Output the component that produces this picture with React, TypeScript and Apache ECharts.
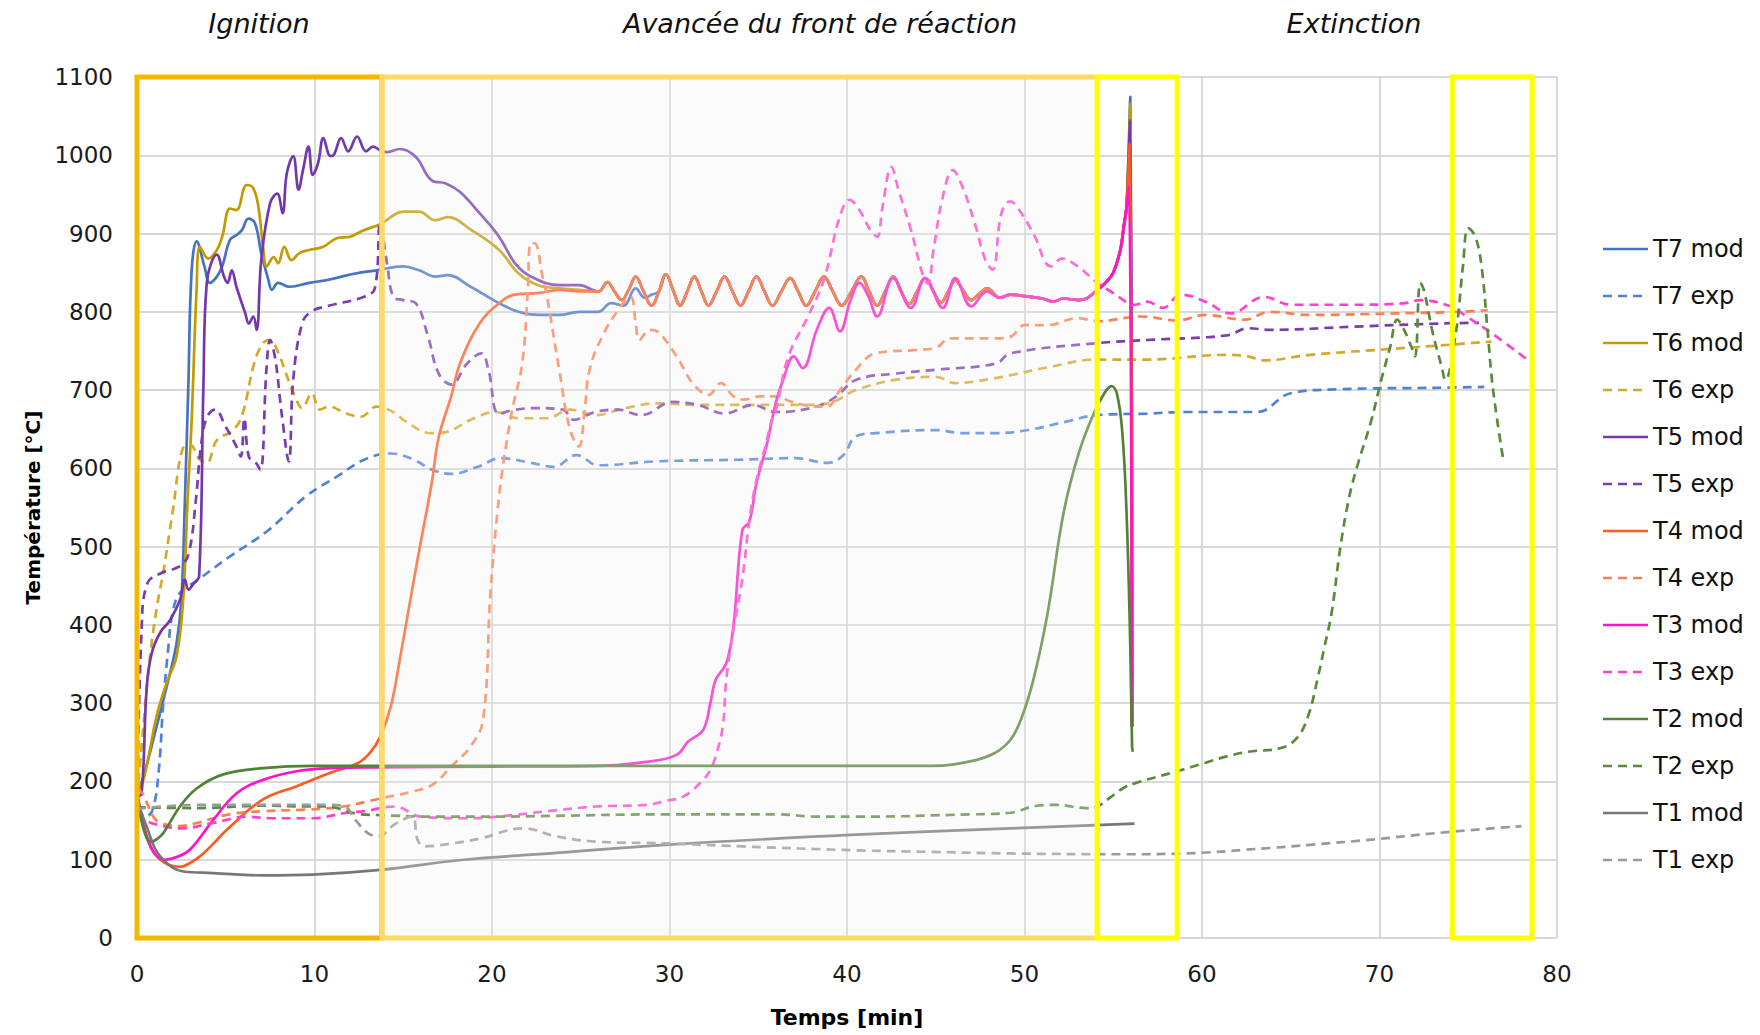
import React, { useEffect, useRef } from "react";
import * as echarts from "echarts";

const FONT = "'DejaVu Sans', 'Liberation Sans', sans-serif";

// ---------- axes ----------
const X_MIN = 0;
const X_MAX = 80;
const X_STEP = 10;
const Y_MIN = 0;
const Y_MAX = 1100;
const Y_STEP = 100;

// ---------- zones (minutes) ----------
const ignitionZone = [0, 13.8];
const frontZone = [13.8, 54.1];
const extinctionZones = [
  [54.1, 58.6],
  [74.1, 78.6],
];
const sectionTitles = ["Ignition", "Avancée du front de réaction", "Extinction"];

// ---------- data: [time (min), temperature (°C)] ----------
// oscillating reaction-front plateau shared by the model curves T7..T4 (and T3 at the end)
const frontWave = [
  [26.0, 826], [26.5, 838], [26.9, 826], [27.3, 815], [27.7, 828], [28.1, 845], [28.5, 828],
  [29.0, 808], [29.4, 826], [29.8, 848], [30.2, 828], [30.6, 808], [31.0, 826], [31.4, 845],
  [31.8, 826], [32.2, 808], [32.65, 826], [33.1, 845], [33.55, 826], [34.0, 808], [34.45, 826],
  [34.9, 845], [35.35, 826], [35.8, 808], [36.3, 826], [36.8, 843], [37.25, 826], [37.7, 808],
  [38.2, 826], [38.7, 845], [39.2, 826], [39.7, 808], [40.25, 826], [40.8, 845], [41.25, 826],
  [41.7, 808], [42.15, 826], [42.6, 845], [43.05, 826], [43.5, 810], [43.95, 826], [44.4, 843],
  [44.85, 827], [45.3, 812], [45.7, 826], [46.1, 840], [46.55, 827], [47.0, 815], [47.45, 823],
  [47.9, 830], [48.6, 818], [49.2, 822], [50.0, 820], [51.0, 817], [51.6, 813], [52.2, 817],
  [53.0, 815], [53.5, 817], [54.1, 828], [54.6, 838], [55.0, 850], [55.4, 879], [55.6, 910],
  [55.75, 934],
];

const T7modStart = [
  [0, 185], [0.36, 206], [1.1, 270], [1.67, 321], [2.23, 377], [2.5, 432], [2.7, 560], [2.89, 704],
  [3.08, 853], [3.36, 890], [3.8, 858], [4.1, 837], [4.5, 845], [4.8, 858], [5.24, 892], [5.6, 898],
  [5.9, 904], [6.28, 919], [6.65, 913], [7.0, 875], [7.4, 841], [7.6, 828], [7.95, 837], [8.6, 832],
  [9.7, 837], [10.8, 841], [12.3, 849], [13.5, 853], [15.0, 858], [15.9, 853], [16.8, 845],
  [17.5, 847], [18.8, 832], [20.4, 811], [21.5, 800], [22.6, 796], [23.8, 796], [24.9, 800],
  [26.0, 800], [26.7, 811], [27.4, 808], [28.1, 830], [28.6, 818], [29.0, 822],
];
const T7modEnd = [[55.96, 1075], [56.06, 270]];

const T6modStart = [
  [0, 190], [0.36, 202], [1.1, 283], [1.67, 326], [2.23, 360], [2.6, 432], [2.85, 560], [3.08, 662],
  [3.36, 830], [3.55, 883], [4.02, 868], [4.5, 879], [4.8, 896], [5.24, 932], [5.6, 930], [6.18, 962],
  [6.55, 958], [6.84, 934], [7.1, 883], [7.31, 858], [7.7, 870], [7.95, 862], [8.3, 883], [8.7, 866],
  [9.15, 875], [9.7, 879], [10.5, 883], [11.25, 894], [12.0, 896], [12.75, 904], [13.7, 912],
  [15.04, 928], [15.9, 928], [16.8, 917], [17.5, 921], [18.8, 905], [20.4, 879], [21.5, 849],
  [22.6, 834], [23.8, 830], [24.9, 828],
];
const T6modEnd = [[55.96, 1066], [56.06, 270]];

const T5modStart = [
  [0, 180], [0.26, 185], [0.55, 321], [0.83, 364], [1.3, 390], [1.86, 406], [2.42, 432], [2.7, 458],
  [2.9, 445], [3.2, 453], [3.5, 462], [3.74, 704], [3.93, 837], [4.5, 873], [4.9, 845], [5.1, 837],
  [5.34, 853], [5.6, 832], [6.1, 798], [6.3, 785], [6.55, 794], [6.74, 777], [7.0, 866], [7.5, 939],
  [7.9, 951], [8.2, 926], [8.44, 977], [8.8, 999], [9.1, 956], [9.36, 982], [9.66, 1011], [9.9, 975],
  [10.2, 990], [10.5, 1022], [10.9, 999], [11.1, 1001], [11.5, 1022], [11.9, 1005], [12.4, 1024],
  [12.9, 1005], [13.3, 1011], [13.8, 1005], [14.1, 1004], [14.8, 1008], [15.7, 998], [16.6, 968],
  [17.4, 964], [18.2, 953], [19.3, 926], [20.4, 896], [21.3, 862], [22.2, 845], [23.8, 834],
  [24.9, 834],
];
const T5modEnd = [[55.95, 1045], [56.06, 270]];

const T4modStart = [
  [0, 190], [0.3, 150], [0.8, 115], [1.5, 97], [2.42, 91], [3.0, 96], [3.74, 108], [5.24, 142],
  [7.1, 177], [9.0, 194], [10.9, 211], [12.4, 223], [13.1, 236], [13.7, 257], [14.3, 296],
  [14.8, 355], [15.4, 432], [15.8, 483], [16.6, 581], [17.0, 640], [17.7, 692], [18.2, 734],
  [19.3, 785], [20.4, 811], [21.3, 822], [22.6, 824], [23.8, 828], [24.9, 826],
];
const T4modEnd = [[55.93, 1015], [56.06, 270]];

const T3modStart = [
  [0, 185], [0.3, 150], [0.7, 120], [1.1, 105], [1.58, 100], [2.3, 104], [2.99, 113], [4.3, 151],
  [5.62, 185], [7.1, 202], [9.0, 213], [10.9, 217], [13.7, 218], [20.0, 219], [26.0, 220],
  [28.7, 225], [30.4, 234], [31.05, 251], [31.9, 266], [32.3, 300], [32.6, 330], [33.2, 351],
  [33.6, 398], [34.1, 521], [34.5, 532], [34.9, 581], [35.5, 632], [36.0, 685], [36.4, 713],
  [37.0, 743], [37.5, 728], [38.3, 777], [39.0, 805], [39.6, 775], [40.2, 815], [40.7, 837],
  [41.2, 820], [41.7, 794], [42.6, 843], [43.6, 805], [44.4, 843], [45.4, 805], [46.1, 843],
  [47.0, 807], [47.9, 826],
];
const T3modEnd = [[55.88, 960], [56.06, 270]];

const T2mod = [
  [0, 185], [0.25, 150], [0.55, 128], [0.83, 123], [1.1, 126], [1.48, 134], [2.42, 168], [3.36, 191],
  [4.86, 209], [7.1, 217], [9.9, 220], [20, 220], [30, 220], [40, 220], [44.8, 220], [47.0, 226],
  [48.3, 236], [49.2, 253], [49.8, 279], [50.5, 330], [51.3, 415], [52.2, 543], [53.05, 619],
  [53.9, 670], [54.5, 696], [54.9, 705], [55.2, 696], [55.5, 649], [55.75, 543], [55.96, 372],
  [56.06, 245], [56.1, 238],
];

const T1mod = [
  [0, 180], [0.25, 160], [0.55, 142], [1.0, 115], [1.48, 100], [2.0, 90], [2.6, 85], [4.3, 83],
  [7.1, 80], [9.9, 81], [13.7, 87], [18.4, 100], [23.3, 108], [29.75, 119], [40.5, 132],
  [49.2, 140], [56.2, 146],
];

const T7exp = [
  [0, 165], [0.5, 155], [0.9, 165], [1.23, 215], [1.48, 300], [1.77, 372], [2.0, 415], [2.42, 441],
  [3.4, 457], [5.2, 487], [7.4, 521], [9.5, 564], [11.3, 590], [12.8, 611], [14.3, 619], [15.6, 611],
  [16.65, 598], [17.7, 593], [19.2, 602], [20.5, 613], [22.2, 607], [23.5, 602], [24.75, 617],
  [26.0, 604], [29.3, 609], [33.8, 611], [37.1, 613], [38.9, 607], [39.8, 617], [40.5, 641],
  [41.6, 645], [45.0, 649], [46.5, 645], [48.4, 645], [50.2, 649], [52.4, 660], [54.1, 668],
  [56.9, 670], [59.0, 672], [63.1, 672], [65.0, 696], [67.7, 701], [73.3, 703], [75.9, 704],
];

const T6exp = [
  [0, 180], [0.26, 245], [0.69, 351], [1.1, 420], [1.5, 470], [1.98, 540], [2.63, 628], [3.0, 630],
  [3.5, 612], [3.93, 607], [4.5, 636], [5.43, 649], [5.95, 670], [6.6, 734], [7.1, 760], [7.5, 764],
  [7.9, 751], [8.4, 721], [8.9, 692], [9.3, 677], [9.85, 696], [10.3, 675], [10.8, 679], [11.8, 670],
  [12.6, 666], [13.5, 679], [14.6, 670], [15.0, 662], [16.6, 645], [17.5, 647], [18.8, 662],
  [20.2, 672], [21.5, 664], [23.1, 664], [24.4, 675], [25.8, 668], [27.5, 677], [29.3, 683],
  [31.6, 681], [33.8, 681], [37.1, 681], [38.9, 683], [40.5, 700], [42.7, 713], [45.0, 717],
  [46.1, 709], [48.3, 715], [49.2, 719], [51.3, 729], [54.1, 739], [56.9, 739], [61.4, 745],
  [62.6, 743], [63.5, 738], [66.1, 745], [70.9, 753], [74.0, 758], [76.3, 762],
];

const T5exp = [
  [0, 165], [0.26, 394], [0.58, 453], [1.34, 466], [2.42, 475], [2.9, 490], [3.3, 556], [3.6, 628],
  [3.93, 665], [4.4, 675], [5.0, 653], [5.6, 628], [5.85, 615], [6.05, 664], [6.3, 615], [6.7, 607],
  [6.95, 598], [7.3, 729], [7.5, 764], [7.8, 738], [8.15, 670], [8.55, 609], [8.8, 713], [9.3, 785],
  [9.8, 800], [10.85, 808], [12.76, 819], [13.4, 830], [13.7, 913], [14.1, 860], [14.45, 819],
  [15.0, 815], [15.7, 811], [16.4, 768], [17.0, 721], [17.7, 707], [18.6, 734], [19.4, 747],
  [19.8, 726], [20.4, 670], [21.3, 675], [22.6, 677], [24.0, 675], [24.6, 662], [25.8, 672],
  [27.1, 675], [28.4, 668], [30.2, 685], [31.6, 681], [33.1, 670], [34.7, 681], [36.0, 672],
  [38.3, 679], [39.4, 692], [40.5, 713], [42.7, 721], [45.0, 726], [48.4, 734], [49.2, 747],
  [54.1, 760], [56.9, 764], [61.4, 770], [62.6, 779], [63.8, 777], [68.5, 781], [73.3, 785],
  [75.6, 786],
];

const T4exp = [
  [0, 190], [0.3, 185], [0.92, 155], [1.34, 147], [2.4, 143], [3.36, 147], [5.2, 158], [7.1, 162],
  [9.5, 164], [11.6, 168], [13.85, 179], [15.5, 187], [16.65, 196], [17.7, 219], [18.8, 245],
  [19.5, 279], [19.9, 436], [20.3, 543], [20.6, 600], [21.1, 670], [21.7, 734], [22.0, 820],
  [22.2, 888], [22.5, 886], [22.8, 850], [23.1, 819], [23.8, 724], [24.4, 649], [24.9, 628],
  [25.2, 670], [25.5, 726], [26.2, 768], [27.1, 802], [27.8, 819], [28.1, 785], [28.3, 764],
  [28.9, 777], [29.3, 775], [30.4, 743], [31.3, 709], [32.2, 694], [32.9, 709], [33.6, 692],
  [34.2, 688], [35.1, 692], [36.0, 692], [36.9, 685], [38.3, 679], [38.9, 679], [39.6, 700],
  [40.5, 726], [41.6, 747], [43.8, 751], [45.0, 754], [45.8, 766], [48.4, 766], [49.2, 768],
  [50.0, 783], [51.3, 783], [53.0, 792], [54.1, 788], [56.6, 794], [58.6, 789], [60.2, 796],
  [62.4, 790], [63.8, 800], [66.1, 796], [70.9, 798], [74.5, 800], [76.1, 802],
];

const T3exp = [
  [0, 160], [0.5, 150], [1.48, 143], [2.42, 140], [4.3, 147], [6.2, 155], [7.4, 153], [9.9, 153],
  [11.8, 160], [12.8, 162], [14.5, 168], [16.0, 155], [18.4, 153], [20.3, 155], [23.1, 162],
  [25.9, 168], [28.7, 170], [29.75, 175], [30.8, 181], [31.9, 202], [32.3, 215], [32.6, 232],
  [33.0, 270], [33.2, 330], [33.6, 394], [34.1, 458], [34.5, 534], [34.9, 585], [35.4, 628],
  [35.8, 665], [36.0, 675], [36.7, 743], [37.8, 794], [38.7, 841], [39.6, 922], [40.15, 943],
  [40.7, 930], [41.3, 905], [41.7, 896], [42.0, 934], [42.5, 985], [42.9, 956], [43.6, 905],
  [44.3, 845], [44.55, 836], [44.9, 883], [45.4, 947], [45.96, 981], [46.5, 960], [47.2, 913],
  [47.8, 866], [48.2, 854], [48.7, 926], [49.2, 941], [49.7, 930], [50.5, 900], [51.5, 858],
  [52.1, 868], [53.0, 858], [54.1, 837], [55.0, 824], [55.85, 811], [56.2, 809], [56.9, 813],
  [57.8, 805], [58.8, 822], [60.2, 813], [61.6, 798], [63.5, 819], [65.0, 809], [68.5, 809],
  [71.4, 811], [72.3, 815], [74.0, 807], [74.9, 794], [76.3, 773], [78.5, 736],
];

const T2exp = [
  [0, 167], [3.36, 166], [7.1, 169], [9.9, 168], [10.6, 168], [12.6, 158], [13.7, 157], [16.5, 155],
  [20, 155], [23.3, 156], [29.75, 158], [36.0, 158], [38.4, 155], [40.5, 155], [47.0, 158],
  [49.2, 160], [50.7, 169], [51.8, 170], [53.5, 166], [54.1, 168], [54.8, 179], [55.6, 192],
  [56.4, 199], [58.6, 213], [60.2, 224], [61.4, 232], [62.6, 238], [64.5, 243], [65.4, 257],
  [66.0, 285], [66.5, 330], [66.9, 372], [67.3, 415], [67.8, 500], [68.3, 564], [68.8, 607],
  [69.5, 658], [70.1, 713], [70.6, 755], [71.0, 790], [71.3, 781], [71.8, 755], [72.0, 743],
  [72.3, 837], [72.5, 828], [73.0, 773], [73.5, 730], [73.7, 713], [74.3, 773], [74.7, 858],
  [75.0, 907], [75.4, 896], [75.75, 858], [76.1, 773], [76.4, 700], [77.0, 607],
];

const T1exp = [
  [0, 165], [1.5, 168], [3.4, 170], [10.9, 170], [11.7, 168], [12.3, 151], [13.0, 134], [13.6, 130],
  [14.5, 145], [15.5, 155], [15.8, 126], [16.2, 117], [17.8, 121], [19.3, 127], [21.8, 140],
  [23.6, 130], [25.9, 123], [29.75, 121], [34.1, 117], [40.5, 112], [44.8, 110], [49.2, 108],
  [55.6, 107], [59.0, 108], [63.8, 115], [66.1, 119], [69.7, 126], [73.2, 134], [78.0, 143],
];

const fromTime = (arr: number[][], t: number) => arr.filter((p) => p[0] >= t);

const T7mod = [...T7modStart, ...fromTime(frontWave, 29.4), ...T7modEnd];
const T6mod = [...T6modStart, ...fromTime(frontWave, 26.0), ...T6modEnd];
const T5mod = [...T5modStart, ...fromTime(frontWave, 26.0), ...T5modEnd];
const T4mod = [...T4modStart, ...fromTime(frontWave, 26.0), ...T4modEnd];
const T3mod = [...T3modStart, ...fromTime(frontWave, 48.6), ...T3modEnd];

const seriesNames = [
  "T7 mod", "T7 exp", "T6 mod", "T6 exp", "T5 mod", "T5 exp", "T4 mod",
  "T4 exp", "T3 mod", "T3 exp", "T2 mod", "T2 exp", "T1 mod", "T1 exp",
];
const seriesData = [
  T7mod, T7exp, T6mod, T6exp, T5mod, T5exp, T4mod, T4exp, T3mod, T3exp, T2mod, T2exp, T1mod, T1exp,
];
const seriesColors = [
  "#4472C4", "#4F81D9", "#C39A00", "#D6A82A", "#7339AB", "#7A3DB0", "#FF5A1F",
  "#FF7F50", "#FF14C8", "#FF40D0", "#538135", "#5A8A3A", "#7A7676", "#9A9A9A",
];

const DASH = [9, 6];

export default function App() {
  const ref = useRef<HTMLDivElement>(null);

  useEffect(() => {
    document.body.style.margin = "0";
    document.body.style.overflow = "hidden";
    const chart = echarts.init(ref.current as HTMLDivElement, null, {
      renderer: "svg",
      width: 1760,
      height: 1035,
    });

    const option: any = {
      animation: false,
      backgroundColor: "#ffffff",
      grid: { left: 137, right: 203, top: 77, bottom: 97, containLabel: false, outerBoundsMode: "none" },
      xAxis: {
        type: "value",
        min: X_MIN,
        max: X_MAX,
        interval: X_STEP,
        axisLine: { show: false },
        axisTick: { show: false },
        splitLine: { show: true, lineStyle: { color: "#cccccc", width: 1.5 } },
        axisLabel: {
          fontFamily: FONT,
          fontSize: 23,
          color: "#1a1a1a",
          margin: 24,
          formatter: (v: number) => String(v),
        },
        name: "Temps [min]",
        nameLocation: "middle",
        nameGap: 68,
        nameTextStyle: { fontFamily: FONT, fontSize: 22, fontWeight: "bold", color: "#000" },
      },
      yAxis: {
        type: "value",
        min: Y_MIN,
        max: Y_MAX,
        interval: Y_STEP,
        axisLine: { show: false },
        axisTick: { show: false },
        splitLine: { show: true, lineStyle: { color: "#cccccc", width: 1.5 } },
        axisLabel: {
          fontFamily: FONT,
          fontSize: 23,
          color: "#1a1a1a",
          margin: 24,
          formatter: (v: number) => String(v),
        },
        name: "Température [°C]",
        nameLocation: "middle",
        nameRotate: 90,
        nameGap: 94,
        nameTextStyle: { fontFamily: FONT, fontSize: 20, fontWeight: "bold", color: "#000" },
      },
      series: seriesNames.map((name, i) => ({
        name,
        type: "line",
        data: seriesData[i],
        symbol: "none",
        showSymbol: false,
        smooth: 0.4,
        emphasis: { disabled: true },
        silent: true,
        lineStyle: {
          color: seriesColors[i],
          width: 2.7,
          type: name.endsWith("exp") ? DASH : "solid",
        },
        itemStyle: { color: seriesColors[i] },
      })),
    };
    chart.setOption(option);

    const px = (x: number, y: number) => chart.convertToPixel({ gridIndex: 0 }, [x, y]) as number[];
    const zoneRect = (x0: number, x1: number, stroke: string, fill: string) => {
      const a = px(x0, Y_MAX);
      const b = px(x1, Y_MIN);
      return {
        type: "rect",
        z: 100,
        silent: true,
        shape: { x: a[0], y: a[1], width: b[0] - a[0], height: b[1] - a[1] },
        style: { fill, stroke, lineWidth: 5 },
      };
    };

    const elements: any[] = [];
    elements.push(zoneRect(ignitionZone[0], ignitionZone[1], "#F5B800", "rgba(0,0,0,0)"));
    elements.push(zoneRect(frontZone[0], frontZone[1], "#FFD966", "rgba(242,242,242,0.28)"));
    extinctionZones.forEach((z) => elements.push(zoneRect(z[0], z[1], "#FFFF00", "rgba(0,0,0,0)")));

    // section titles
    const titleX = [259, 820, 1354];
    sectionTitles.forEach((t, i) => {
      elements.push({
        type: "text",
        z: 100,
        silent: true,
        x: titleX[i],
        y: 23,
        style: {
          text: t,
          fontFamily: FONT,
          fontSize: 27,
          fontStyle: "italic",
          fill: "#111",
          align: "center",
          verticalAlign: "middle",
        },
      });
    });

    // legend (line sample + label)
    const legendX = 1603;
    const legendTop = 249;
    const legendStep = 47;
    seriesNames.forEach((name, i) => {
      const y = legendTop + legendStep * i;
      elements.push({
        type: "line",
        z: 100,
        silent: true,
        shape: { x1: legendX, y1: y, x2: legendX + 45, y2: y },
        style: {
          stroke: seriesColors[i],
          lineWidth: 2.5,
          lineDash: name.endsWith("exp") ? DASH : null,
        },
      });
      elements.push({
        type: "text",
        z: 100,
        silent: true,
        x: legendX + 50,
        y,
        style: {
          text: name,
          fontFamily: FONT,
          fontSize: 24,
          fill: "#111",
          align: "left",
          verticalAlign: "middle",
        },
      });
    });

    chart.setOption({ graphic: { elements } });

    return () => {
      chart.dispose();
    };
  }, []);

  return <div ref={ref} style={{ width: 1760, height: 1035 }} />;
}
